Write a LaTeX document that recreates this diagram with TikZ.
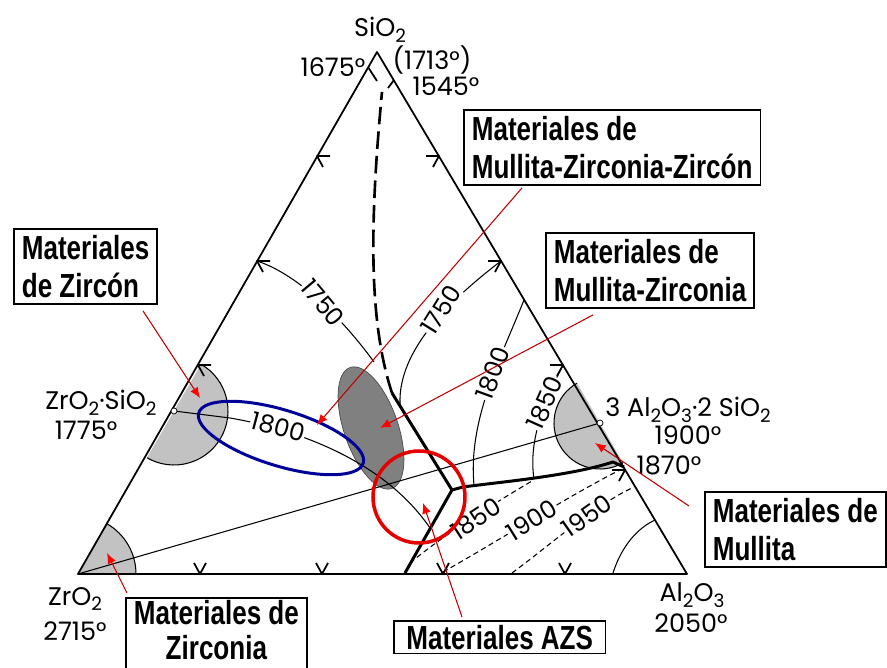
\documentclass[tikz,border=0pt]{standalone}
\usepackage{fontspec}
\usetikzlibrary{calc,arrows.meta,positioning}
\newfontfamily\leroy{Poppins}
\newfontfamily\calloutfont[FakeStretch=0.78]{Liberation Sans}
\newcommand{\ls}[1]{\raisebox{-0.4ex}{\fontsize{10.5}{10.5}\selectfont #1}}
\tikzset{
  edge/.style={line width=1pt, line join=round},
  bound/.style={line width=1.7pt, line join=round},
  iso/.style={line width=0.6pt},
  isodash/.style={line width=0.6pt, densely dashed},
  templbl/.style={font=\leroy\fontsize{14}{15}\selectfont, fill=white, inner sep=0.5pt},
  phase/.style={font=\leroy\fontsize{14.5}{15}\selectfont, inner sep=0pt},
  field/.style={fill=black!24},
  compound/.style={circle, draw, fill=white, inner sep=0pt, minimum size=0.12cm},
}
\tikzset{
  callout/.style={
    draw,
    line width=1pt,
    font=\calloutfont\bfseries\fontsize{19}{22}\selectfont,
    align=left,
    inner xsep=0.16cm,
    inner ysep=0.12cm,
    anchor=north west
  },
  pointer/.style={
    draw=red!75!black,
    line width=0.6pt,
    -{Latex[length=6pt,width=5pt,color=red]}
  },
}
\begin{document}
\begin{tikzpicture}[x=0.02cm, y=-0.02cm]
\clip (0,0) rectangle (887,668);
% vertices
\coordinate (Si) at (377,52);
\coordinate (Zr) at (78,574);
\coordinate (Al) at (687,574);
\coordinate (ZS) at (174,411);
\coordinate (Mu) at (600,423);
\coordinate (Eu) at (452,490);
% primary fields
\fill[field] (ZS) -- ++(-60:54) arc[start angle=-60, end angle=120, radius=54] -- cycle;
\draw[iso] (ZS) ++(-60:54) arc[start angle=-60, end angle=120, radius=54];
\fill[field] (Mu) -- ++(60:46) arc[start angle=60, end angle=240, radius=46] -- cycle;
\draw[iso] (Mu) ++(60:46) arc[start angle=60, end angle=240, radius=46];
\fill[field] (Zr) -- ++(0:58) arc[start angle=0, end angle=-60, radius=58] -- cycle;
\draw[iso] (Zr) ++(0:58) arc[start angle=0, end angle=-60, radius=58];
\filldraw[fill=black!50, draw=black!70, rotate around={-71:(371,428)}] (371,428) ellipse [x radius=64, y radius=27];
% triangle
\draw[edge] (Si) -- (Zr) -- (Al) -- cycle;
\foreach \x/\y in {317/156, 257/261, 198/365}
  \draw[edge] (\x+13,\y) -- (\x,\y) -- (\x+6,\y+11);
\foreach \x/\y in {439/156, 501/261, 563/365, 625/470}
  \draw[edge] (\x-13,\y) -- (\x,\y) -- (\x-6,\y+11);
\foreach \x in {200,322,443,565}
  \draw[edge] (\x-6,563) -- (\x,574) -- (\x+6,563);
% tie line and boundaries
\draw[iso] (Zr) -- (Mu);
\draw[bound] (405,573) -- (Eu) -- (392,393);
\draw[bound] (Eu) -- (463,487) .. controls (500,482) and (570,476) .. (613,462) -- (624,467);
\draw[line width=1.5pt, dash pattern=on 10pt off 4pt] (392,393) .. controls (368,320) and (370,220) .. (382,92);
\draw[edge] (368,67) -- (377,81);
\draw[edge] (394,80) -- (388,88);
% isotherms
\draw[iso] (ZS) -- (230,418) .. controls (300,430) and (385,462) .. (430,528);
\draw[iso] (257,261) .. controls (300,275) and (345,322) .. (374,362);
\draw[iso] (501,261) .. controls (450,300) and (398,350) .. (400,404);
\draw[iso] (524,300) .. controls (500,360) and (468,420) .. (474,485);
\draw[iso] (563,365) .. controls (545,400) and (528,440) .. (534,479);
\draw[isodash] (410,563) .. controls (450,530) and (500,500) .. (532,481);
\draw[isodash] (443,572) .. controls (500,540) and (570,495) .. (620,470);
\draw[isodash] (512,573) .. controls (550,545) and (595,505) .. (634,487);
\draw[iso] (613,573) .. controls (622,545) and (638,528) .. (655,520);
\node[templbl, rotate=-50] (t1750a) at (323,303) {1750};
\node[templbl, rotate=58] (t1750b) at (441,310) {1750};
\node[templbl, rotate=-15] (t1800a) at (278,427) {1800};
\node[templbl, rotate=70] (t1800b) at (493,373) {1800};
\node[templbl, rotate=66] (t1850a) at (545,403) {1850};
\node[templbl, rotate=33] (t1850b) at (476,519) {1850};
\node[templbl, rotate=32] (t1900) at (532,520) {1900};
\node[templbl, rotate=35] (t1950) at (587,516) {1950};
\node[compound] (ZSdot) at (ZS) {};
\node[compound] (Mudot) at (Mu) {};
% compounds
\node[phase] (lblSi) at (380,30) {SiO\ls{2}};
\node[phase] (lblSiA) at (333,67) {1675°};
\node[phase] (lblSiB) at (432,60) {(1713°)};
\node[phase] (lblSiC) at (446,86) {1545°};
\node[phase] (lblZS) at (101,403) {ZrO\ls{2}·SiO\ls{2}};
\node[phase] (lblZST) at (86,430) {1775°};
\node[phase] (lblMu) at (688,410) {3 Al\ls{2}O\ls{3}·2 SiO\ls{2}};
\node[phase] (lblMuT) at (688,435) {1900°};
\node[phase] (lblMuE) at (669,465) {1870°};
\node[phase] (lblZr) at (75,599) {ZrO\ls{2}};
\node[phase] (lblZrT) at (75,631) {2715°};
\node[phase] (lblAl) at (692,595) {Al\ls{2}O\ls{3}};
\node[phase] (lblAlT) at (691,623) {2050°};
% marked regions
\draw[line width=1.7pt, blue!60!black, rotate around={-17:(281,438)}] (281,438) ellipse [x radius=86, y radius=28];
\draw[line width=2pt, red!90!black] (419,497) circle [radius=46];
% callouts
\node[callout] (boxMZZ) at (463,109) {Materiales de\\Mullita-Zirconia-Zircón};
\node[callout] (boxMZ) at (545,232) {Materiales de\\Mullita-Zirconia};
\node[callout] (boxZircon) at (13,228) {Materiales\\de Zircón};
\node[callout] (boxMullita) at (704,491) {Materiales de\\Mullita};
\node[callout, inner xsep=0.25cm, inner ysep=0.08cm] (boxAZS) at (393,620) {Materiales AZS};
\node[callout, align=center, inner ysep=0.05cm,
      font=\calloutfont\bfseries\fontsize{19}{20}\selectfont] (boxZirconia) at (125,597) {Materiales de\\Zirconia\\\mbox{}};
\coordinate (tipZircon) at (200,398);
\coordinate (tipMZZ) at (317,425);
\coordinate (tipMZ) at (380,428);
\coordinate (tipMullita) at (595,443);
\coordinate (tipAZS) at (423,503);
\coordinate (tipZirconia) at (107,553);
\draw[pointer] ($(boxZircon.south west)+(130,6)$) -- (tipZircon);
\draw[pointer] ($(boxMZZ.south west)+(59,2)$) -- (tipMZZ);
\draw[pointer] ($(boxMZ.south west)+(48,6)$) -- (tipMZ);
\draw[pointer] ($(boxMullita.north west)+(-15,15)$) -- (tipMullita);
\draw[pointer] ($(boxAZS.north west)+(69,-3)$) -- (tipAZS);
\draw[pointer] ($(boxZirconia.north west)+(2,-4)$) -- (tipZirconia);
\end{tikzpicture}
\end{document}
